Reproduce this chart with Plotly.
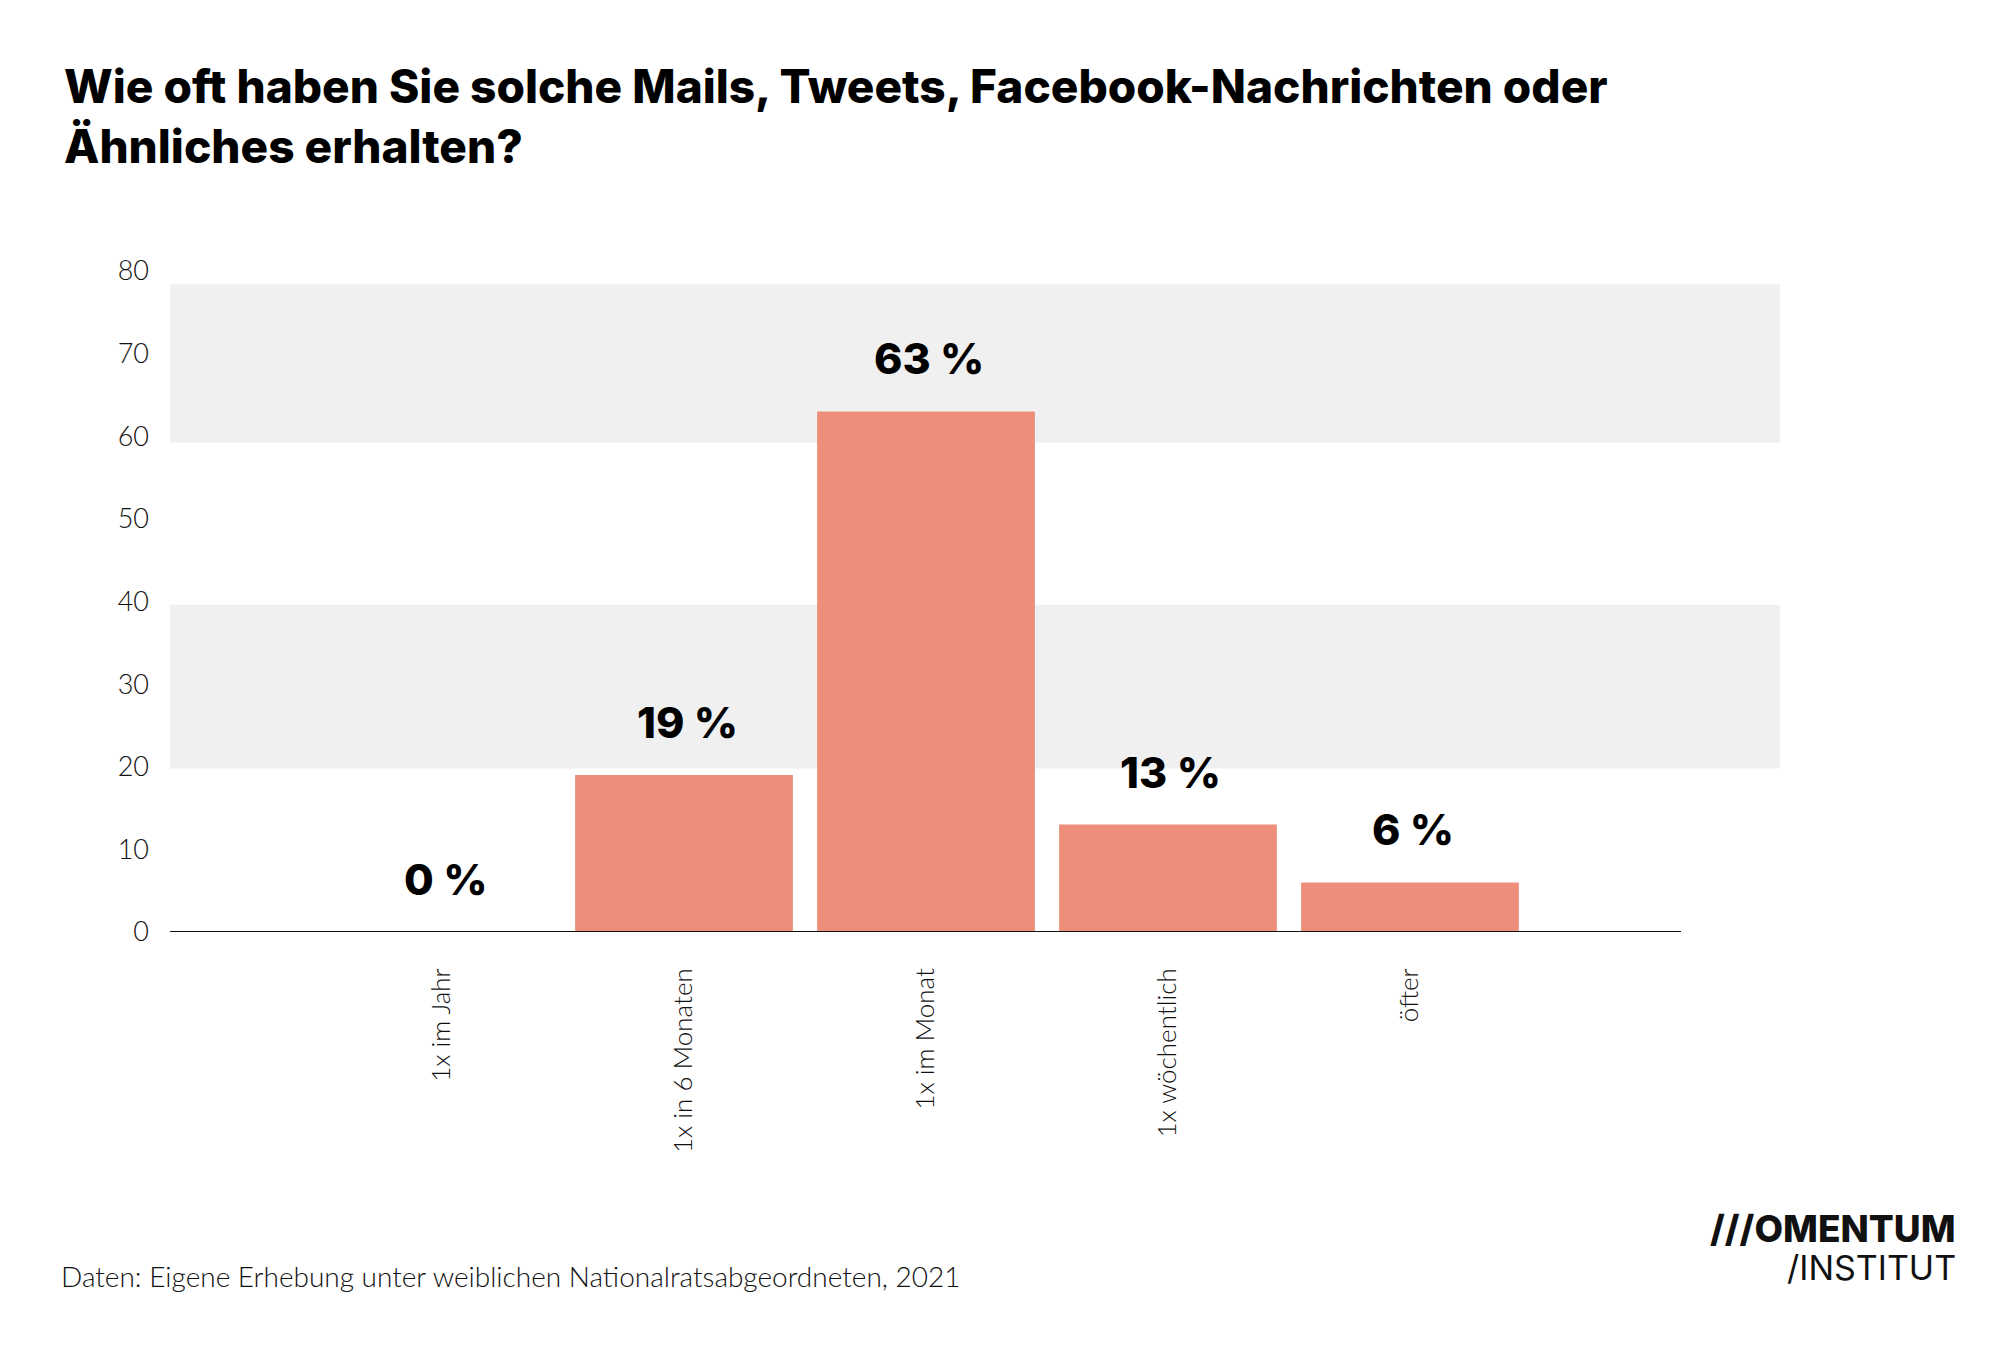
import plotly.graph_objects as go

# ---- data ----
categories = ["1x im Jahr", "1x in 6 Monaten", "1x im Monat", "1x wöchentlich", "öfter"]
values = [0, 19, 63, 13, 6]
value_labels = ["0 %", "19 %", "63 %", "13 %", "6 %"]
y_ticks = [0, 10, 20, 30, 40, 50, 60, 70, 80]

title_text = "Wie oft haben Sie solche Mails, Tweets, Facebook-Nachrichten oder<br>Ähnliches erhalten?"
source_text = "Daten: Eigene Erhebung unter weiblichen Nationalratsabgeordneten, 2021"

# ---- layout geometry (screen pixels; page body has an 8px margin) ----
SW, SH = 2015, 1352
OFF = 8
W, H = SW - OFF, SH - OFF
L, R, T, B = 170, 1780, 271, 932
BAR_COLOR = "#ED8E7B"
BAND_COLOR = "#F0F0F0"
BOLD = "Inter"
LIGHT = "Lato"

def px_x(px):
    return (px - L) / (R - L)

def px_y(py):
    return (B - py) / (B - T)

x_range = [-1.124, 5.529]

fig = go.Figure()
fig.add_trace(go.Bar(
    x=categories, y=values,
    marker=dict(color=BAR_COLOR, line=dict(width=0)),
    hoverinfo="skip",
))

# background bands
for y0, y1 in [(19.8, 39.6), (59.2, 78.4)]:
    fig.add_shape(type="rect", xref="paper", yref="y", x0=0, x1=1, y0=y0, y1=y1,
                  fillcolor=BAND_COLOR, line=dict(width=0), layer="below")

# baseline
fig.add_shape(type="line", xref="x", yref="y", x0=x_range[0], x1=5.12, y0=0, y1=0,
              line=dict(color="#111111", width=2), layer="above")

# value labels
for c, v, t in zip(categories, values, value_labels):
    fig.add_annotation(x=c, y=v, xref="x", yref="y", text=t, showarrow=False,
                       yanchor="middle", yshift=53, xshift=3,
                       font=dict(family=BOLD, size=43, color="#000000", weight=800))

# title
fig.add_annotation(xref="paper", yref="paper", x=px_x(62), y=px_y(56),
                   xanchor="left", yanchor="top", align="left", showarrow=False,
                   text=title_text,
                   font=dict(family=BOLD, size=46, color="#000000", weight=800))

# source
fig.add_annotation(xref="paper", yref="paper", x=px_x(59), y=px_y(1276),
                   xanchor="left", yanchor="middle", showarrow=False,
                   text=source_text,
                   font=dict(family=LIGHT, size=28, color="#111111", weight=300))

# logo
fig.add_annotation(xref="paper", yref="paper", x=px_x(1958), y=px_y(1228),
                   xanchor="right", yanchor="middle", showarrow=False,
                   text="///OMENTUM",
                   font=dict(family=BOLD, size=37, color="#111111", weight=800))
fig.add_annotation(xref="paper", yref="paper", x=px_x(1958), y=px_y(1267),
                   xanchor="right", yanchor="middle", showarrow=False,
                   text="/INSTITUT",
                   font=dict(family=BOLD, size=34, color="#111111", weight=400))

fig.update_layout(
    width=W, height=H,
    margin=dict(l=L - OFF, r=SW - R, t=T - OFF, b=SH - B, pad=0),
    paper_bgcolor="white", plot_bgcolor="white",
    showlegend=False, bargap=0.1,
    xaxis=dict(type="category", range=x_range, showgrid=False, zeroline=False,
               showline=False, ticks="", tickangle=-90, ticklabelstandoff=30,
               tickfont=dict(family=LIGHT, size=26, color="#111111", weight=300)),
    yaxis=dict(range=[0, 80], tickvals=y_ticks, showgrid=False, zeroline=False,
               showline=False, ticks="", ticklabelstandoff=20,
               tickfont=dict(family=LIGHT, size=27, color="#111111", weight=300)),
)

fig.write_html("out.html")
